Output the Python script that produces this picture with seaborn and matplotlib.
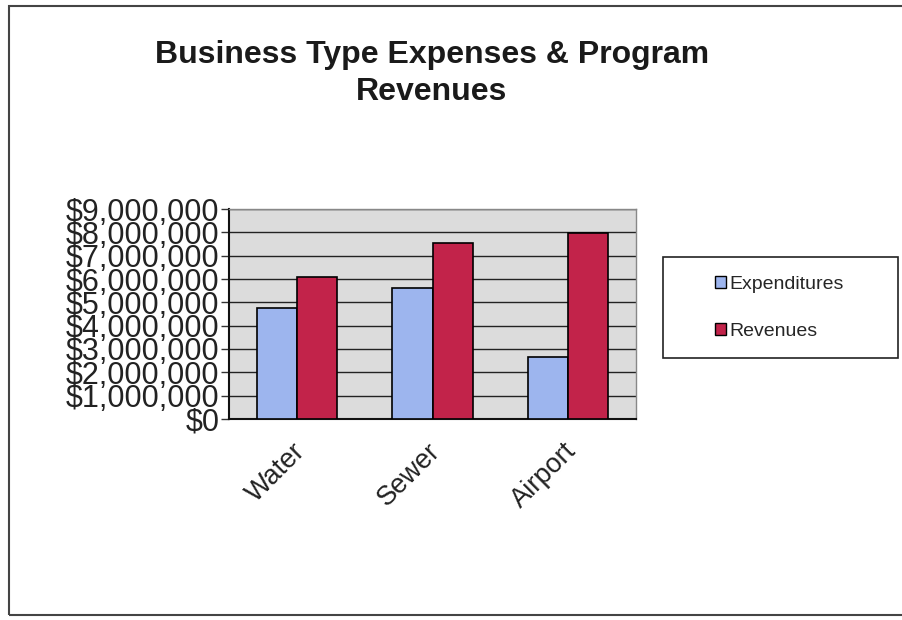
import matplotlib
matplotlib.use("Agg")
import matplotlib.pyplot as plt
import matplotlib.transforms as mtransforms
from matplotlib.patches import Rectangle
from matplotlib.ticker import FuncFormatter
import numpy as np
import pandas as pd
import seaborn as sns

# chart values
business_types = ["Water", "Sewer", "Airport"]
expenditures = [4740000, 5620000, 2660000]
revenues = [6070000, 7530000, 7980000]
series_names = ["Expenditures", "Revenues"]
y_ticks = [0, 1000000, 2000000, 3000000, 4000000, 5000000, 6000000, 7000000, 8000000, 9000000]

df = pd.DataFrame({"type": business_types, "Expenditures": expenditures, "Revenues": revenues})
df = df.melt(id_vars="type", value_vars=series_names, var_name="series", value_name="amount")

sns.set_style("white")
plt.rcParams["font.family"] = ["Liberation Sans", "DejaVu Sans"]

fig = plt.figure(figsize=(9.02, 6.2), dpi=100)
ax = fig.add_axes([229 / 902, 1 - 419 / 620, (636 - 229) / 902, (419 - 209) / 620])
ax.set_facecolor("#dcdcdc")

sns.barplot(data=df, x="type", y="amount", hue="series", order=business_types,
            hue_order=series_names, palette=["#9db5ee", "#c2234a"], saturation=1,
            edgecolor="black", linewidth=1.2, width=0.59, gap=0, ax=ax, zorder=3)

ax.set_ylim(0, 9000000)
ax.set_yticks(y_ticks)
ax.yaxis.set_major_formatter(FuncFormatter(lambda v, p: "${:,.0f}".format(v)))
ax.grid(axis="y", color="#222222", linewidth=1.0, zorder=1)
ax.set_axisbelow(True)
ax.tick_params(axis="y", direction="out", length=6, width=1, color="#333333",
               labelsize=22, labelcolor="#222222", pad=1, left=True)
ax.tick_params(axis="x", length=0, labelsize=19.5, labelcolor="#222222", pad=14)
# nudge the slanted category labels a little to the left
shift = mtransforms.ScaledTranslation(-5 / 100, 0, fig.dpi_scale_trans)
for lab in ax.get_xticklabels():
    lab.set_rotation(45)
    lab.set_ha("right")
    lab.set_rotation_mode("anchor")
    lab.set_transform(lab.get_transform() + shift)
ax.set_xlabel("")
ax.set_ylabel("")

for side in ["top", "right"]:
    ax.spines[side].set_color("#888888")
    ax.spines[side].set_linewidth(1)
for side in ["left", "bottom"]:
    ax.spines[side].set_color("#111111")
    ax.spines[side].set_linewidth(1.5)

leg = ax.legend(loc="center left", bbox_to_anchor=(697 / 902, 1 - 308 / 620),
                bbox_transform=fig.transFigure, frameon=False,
                fontsize=14, handlelength=0.6, handleheight=0.6, handletextpad=0.15,
                labelspacing=1.55, borderpad=0.9, borderaxespad=0)
for h in leg.legend_handles:
    h.set_edgecolor("black")
    h.set_linewidth(1)

# legend box as in the reference, wider than its entries
fig.patches.append(Rectangle((663 / 902, 1 - 358 / 620), (898 - 663) / 902, (358 - 257) / 620,
                             transform=fig.transFigure, fill=False, edgecolor="#222222",
                             linewidth=1.2))

fig.text(432 / 902, 1 - 55 / 620, "Business Type Expenses & Program",
         ha="center", va="center", fontsize=23, fontweight="bold", color="#1a1a1a")
fig.text(432 / 902, 1 - 92 / 620, "Revenues",
         ha="center", va="center", fontsize=23, fontweight="bold", color="#1a1a1a")

# outer frame of the chart area
fig.patches.append(Rectangle((9 / 902, 5 / 620), 1.0, 1 - 11 / 620, transform=fig.transFigure,
                             fill=False, edgecolor="#444444", linewidth=1.5, clip_on=False))

fig.savefig("out.png", dpi=100)
